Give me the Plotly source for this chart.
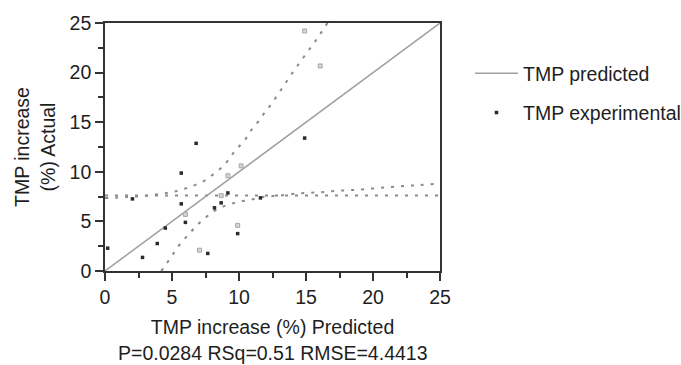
import plotly.graph_objects as go

# ---- data ----
pred_x = [0, 25]
pred_y = [0, 25]

exp_x = [0.2, 2.05, 2.8, 3.9, 4.5, 5.69, 5.69, 6.0, 6.8, 7.67, 8.17, 8.67, 9.17, 9.9, 11.6, 14.9]
exp_y = [2.3, 7.27, 1.37, 2.77, 4.33, 9.87, 6.77, 4.9, 12.87, 1.77, 6.37, 6.87, 7.87, 3.77, 7.37, 13.4]

ghost_x = [6.0, 7.05, 8.67, 9.17, 10.16, 9.9, 14.9, 16.06]
ghost_y = [5.7, 2.1, 7.6, 9.6, 10.6, 4.6, 24.2, 20.67]

mean_x = [0, 25]
mean_y = [7.6, 7.6]

upper_x = [0, 1.6, 3.2, 4.6, 5.4, 6.1, 6.8, 7.5, 8.1, 8.7, 9.2, 9.6, 10.1, 10.6, 11.0, 11.5, 11.9, 12.4, 13.2, 14.0, 14.9, 15.8, 16.6]
upper_y = [7.35, 7.45, 7.6, 7.87, 8.07, 8.37, 8.7, 9.17, 9.77, 10.43, 11.17, 11.93, 12.7, 13.5, 14.37, 15.17, 15.93, 16.8, 18.4, 20.0, 21.7, 23.37, 25.0]

lower_x = [4.2, 4.6, 5.0, 5.4, 5.9, 6.4, 6.9, 7.5, 8.05, 8.7, 9.4, 10.1, 10.9, 11.6, 12.3, 13.0, 14.5, 16.0, 17.5, 19.0, 20.5, 22.0, 23.5, 24.8]
lower_y = [0.0, 0.77, 1.53, 2.37, 3.17, 3.93, 4.67, 5.37, 5.97, 6.43, 6.77, 7.0, 7.2, 7.43, 7.53, 7.6, 7.83, 7.93, 8.1, 8.2, 8.37, 8.53, 8.67, 8.8]

tick_vals = [0, 5, 10, 15, 20, 25]
tick_text = ["0", "5", "10", "15", "20", "25"]

x_title = "TMP increase (%) Predicted"
stats_text = "P=0.0284 RSq=0.51 RMSE=4.4413"
y_title = "TMP increase<br>(%) Actual"

FONT = "Liberation Sans, Arial, sans-serif"
FS = 19.5
TXT = "#1e1e1e"
DOT = "#8a8a8a"
dot_line = dict(color=DOT, width=2, dash="3px,7px")

fig = go.Figure()

for xs, ys in [(mean_x, mean_y), (upper_x, upper_y), (lower_x, lower_y)]:
    fig.add_trace(go.Scatter(x=xs, y=ys, mode="lines", line=dot_line,
                             line_shape="spline", showlegend=False, hoverinfo="skip"))

fig.add_trace(go.Scatter(x=pred_x, y=pred_y, mode="lines", name="TMP predicted",
                         line=dict(color="#a0a0a0", width=1.5), legendgroup="a"))
fig.add_trace(go.Scatter(x=ghost_x, y=ghost_y, mode="markers", showlegend=False,
                         marker=dict(symbol="square", size=4, color="#d4d4d4",
                                     line=dict(color="#a8a8a8", width=1))))
fig.add_trace(go.Scatter(x=exp_x, y=exp_y, mode="markers", name="TMP experimental",
                         marker=dict(symbol="square", size=3.5, color="#2a2a2a"), legendgroup="b"))

axis_common = dict(
    range=[0, 25], tickvals=tick_vals, ticktext=tick_text,
    showgrid=False, zeroline=False, showline=True, linecolor="#333333", linewidth=1.6,
    mirror=True, ticks="outside", ticklen=8, tickwidth=1.5, tickcolor="#333333",
    tickfont=dict(family=FONT, size=FS, color=TXT),
    minor=dict(dtick=2.5, tick0=0, ticks="outside", ticklen=5, tickwidth=1.5, tickcolor="#333333", showgrid=False),
)

fig.update_layout(
    width=681, height=365,
    margin=dict(l=105, r=241, t=21, b=94),
    paper_bgcolor="white", plot_bgcolor="white",
    font=dict(family=FONT, size=FS, color=TXT),
    xaxis=dict(**axis_common,
               title=dict(text=x_title, font=dict(family=FONT, size=FS, color=TXT), standoff=13)),
    yaxis=dict(**axis_common,
               title=dict(text=y_title, font=dict(family=FONT, size=FS, color=TXT), standoff=9)),
    legend=dict(xref="container", yref="container", x=470 / 681, xanchor="left",
                y=1 - 54 / 365, yanchor="top", font=dict(family=FONT, size=FS, color=TXT),
                bgcolor="rgba(0,0,0,0)", tracegroupgap=11, itemwidth=43),
    annotations=[dict(text=stats_text, xref="paper", yref="paper", x=0.5, y=0,
                      xanchor="center", yanchor="middle", yshift=-82, showarrow=False,
                      font=dict(family=FONT, size=FS, color=TXT))],
)

fig.write_html("out.html")
